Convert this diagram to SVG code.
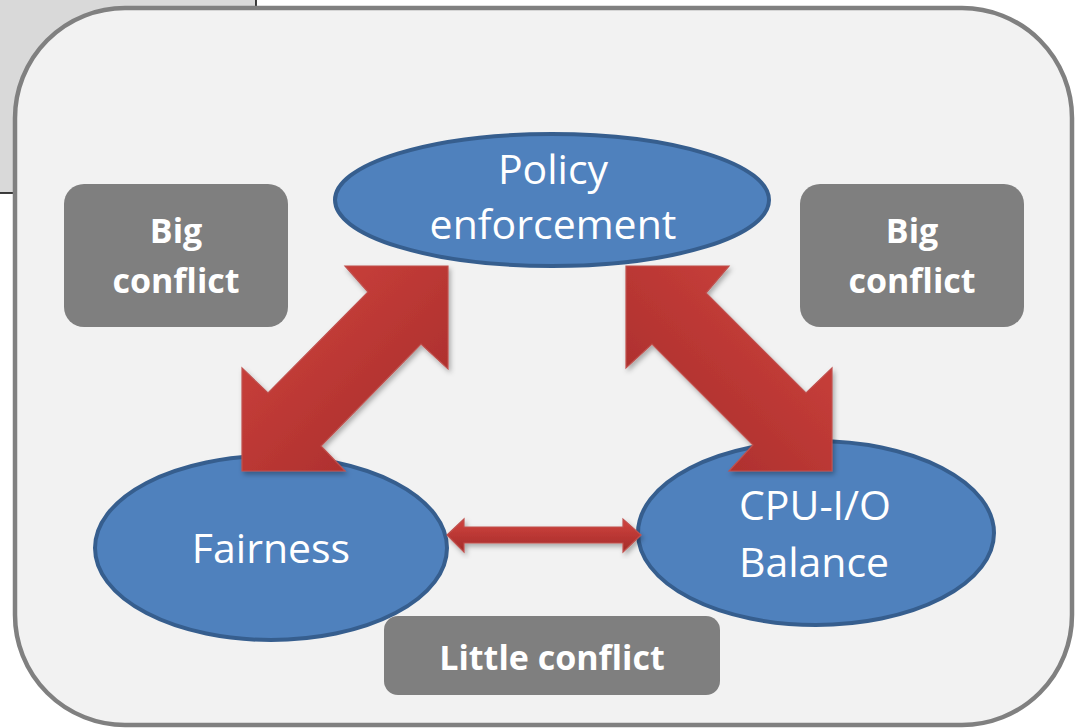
<svg xmlns="http://www.w3.org/2000/svg" width="1078" height="728" viewBox="0 0 1078 728">
<style>
.ell{fill:#4f81bd;stroke:#365e8e;stroke-width:4}
.lbl{font-family:"Open Sans","Liberation Sans",sans-serif;font-size:41px;fill:#ffffff;text-anchor:middle}
.box{fill:#7f7f7f}
.bl{font-family:"Open Sans","Liberation Sans",sans-serif;font-size:34px;font-weight:bold;fill:#ffffff;text-anchor:middle}
.arr{stroke:#c0504d;stroke-width:1.2;filter:url(#sh)}
</style>
<defs>
<linearGradient id="redL" x1="0" y1="0" x2="1" y2="1">
<stop offset="0" stop-color="#d2443f"/>
<stop offset="1" stop-color="#a32b29"/>
</linearGradient>
<linearGradient id="redR" x1="1" y1="0" x2="0" y2="1">
<stop offset="0" stop-color="#d2443f"/>
<stop offset="1" stop-color="#a32b29"/>
</linearGradient>
<linearGradient id="redH" x1="0" y1="0" x2="0" y2="1">
<stop offset="0" stop-color="#d2443f"/>
<stop offset="1" stop-color="#a32b29"/>
</linearGradient>
<filter id="sh" x="-10%" y="-10%" width="130%" height="130%">
<feDropShadow dx="2" dy="3" stdDeviation="2.5" flood-color="#000" flood-opacity="0.3"/>
</filter>
</defs>
<rect width="1078" height="728" fill="#ffffff"/>
<rect x="-2" y="-2" width="258" height="195" fill="#d9d9d9" stroke="#000" stroke-width="1.5"/>
<rect x="15" y="8" width="1057" height="717" rx="110" ry="110" fill="#f2f2f2" stroke="#808080" stroke-width="4.5"/>

<g id="box-left"><rect class="box" x="64" y="184" width="224" height="143" rx="20"/><text class="bl" x="176" y="243">Big</text><text class="bl" x="176" y="293">conflict</text></g>
<g id="box-right"><rect class="box" x="800" y="184" width="224" height="143" rx="20"/><text class="bl" x="912" y="243">Big</text><text class="bl" x="912" y="293">conflict</text></g>
<g id="box-bottom"><rect class="box" x="384" y="616" width="336" height="79" rx="14"/><text class="bl" x="552" y="670">Little conflict</text></g>

<g id="policy"><ellipse class="ell" cx="552" cy="200" rx="217" ry="66"/><text class="lbl" x="553" y="184">Policy</text><text class="lbl" x="553" y="239">enforcement</text></g>
<g id="fairness"><ellipse class="ell" cx="271" cy="548" rx="176" ry="92"/><text class="lbl" x="271" y="563">Fairness</text></g>
<g id="cpuio"><ellipse class="ell" cx="816" cy="533" rx="178" ry="92"/><text class="lbl" x="815" y="520">CPU-I/O</text><text class="lbl" x="814" y="577">Balance</text></g>

<g id="connectors">
<polygon class="arr" fill="url(#redL)" points="345,266 448,266 448,369 421,344 321,446 345,471 242,471 242,368 268,393 368,292"/>
<polygon class="arr" fill="url(#redR)" points="626,266 729,266 706,293 806,393 832,368 832,471 729,471 753,445 652,344 626,368"/>
<polygon class="arr" fill="url(#redH)" points="447,535 464,519 464,527 623,527 623,519 641,535 623,552 623,543 464,543 464,552"/>
</g>
</svg>
